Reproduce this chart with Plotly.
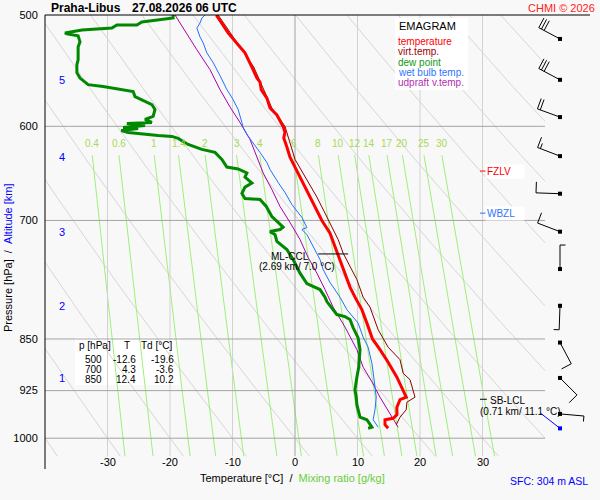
import numpy as np
import plotly.graph_objects as go

W, H = 600, 500
P_TOP, P_BOT = 500, 1050
FONT = "Liberation Sans, Arial, sans-serif"
KPX = np.log10(P_BOT / P_TOP) / 453  # log10(p) per screen pixel

# sounding: pressure [hPa] / temperature [degC]
temp_p = [500, 514.9, 526.9, 532.0, 544.5, 554.4, 558.0, 565.0, 572.9, 582.3,
          588.9, 600.1, 605.7, 611.6, 620.7, 631.0, 641.4, 652.0, 662.8, 676.4,
          690.5, 700, 714.7, 731.3, 746.3, 763.1, 780.8, 793.7, 810.1, 828.2,
          850, 865.0, 882.9, 904.9, 919.8, 935.0, 938.9, 950.5, 962.3, 967.8,
          970.2, 978.2, 983.7]
temp_t = [-12.6, -10.7, -8.8, -8.0, -6.9, -6.1, -5.6, -5.4, -4.5, -4.0,
          -2.9, -1.9, -1.6, -1.8, -1.3, -0.8, 0.0, 0.8, 1.6, 2.7,
          3.7, 4.3, 5.6, 6.4, 7.2, 8.0, 8.8, 9.6, 10.7, 11.5,
          12.4, 13.6, 14.9, 16.3, 17.1, 17.8, 16.8, 16.3, 16.3, 15.7,
          14.4, 14.4, 14.9]

virt_p = [500, 544.5, 582.3, 600.1, 633.4, 654.6, 673.7, 691.7, 707.7, 722.2,
          738.5, 755.6, 771.2, 793.7, 806.8, 837.1, 861.5, 879.3, 899.0, 908.6,
          935.0, 942.7, 954.4, 966.2, 978.2]
virt_t = [-12.3, -6.6, -3.7, -1.6, 0.0, 1.9, 3.5, 4.8, 5.9, 6.9,
          7.7, 8.8, 9.9, 10.9, 12.0, 13.3, 14.9, 16.8, 17.3, 18.4,
          19.2, 17.9, 17.8, 16.8, 16.2]

dew_p = [500, 502.5, 505.8, 508.3, 508.3, 510.8, 512.4, 514.9, 515.7, 517.4,
         522.5, 526.9, 533.6, 538.0, 542.4, 549.5, 554.4, 560.4, 562.2, 565.0,
         566.8, 571.5, 575.2, 579.0, 583.7, 590.3, 593.3, 596.2, 597.2, 599.2,
         601.1, 602.1, 604.1, 606.1, 609.1, 610.0, 612.0, 618.1, 623.1, 626.2,
         633.4, 641.4, 643.4, 647.6, 652.0, 658.5, 662.8, 669.8, 675.3, 676.4,
         684.2, 695.5, 702.3, 707.7, 710.5, 712.9, 716.3, 724.5, 734.1, 746.3,
         763.1, 776.3, 783.9, 793.7, 799.5, 807.4, 816.7, 819.4, 823.4, 834.3,
         848.5, 865.0, 890.1, 904.9, 923.6, 935.0, 946.6, 966.2, 970.2, 982.1,
         983.7]
dew_t = [-19.5, -19.5, -24.5, -25.3, -28.5, -29.3, -34.1, -36.8, -36.5, -34.7,
         -34.4, -34.7, -34.7, -34.7, -34.9, -34.9, -34.4, -33.1, -30.7, -27.7,
         -25.9, -25.6, -24.3, -22.9, -22.4, -22.7, -24.0, -22.9, -26.9, -24.0,
         -27.5, -25.1, -27.8, -26.7, -21.9, -19.7, -18.7, -17.1, -14.9, -12.8,
         -11.7, -10.9, -9.1, -7.7, -8.0, -6.9, -8.0, -8.5, -8.0, -5.6,
         -4.6, -3.7, -2.7, -1.9, -2.4, -4.0, -3.2, -2.9, -1.3, -0.3,
         0.8, 1.9, 4.0, 4.8, 5.1, 5.9, 6.7, 8.0, 8.8, 9.3,
         10.1, 10.4, 10.2, 9.9, 9.6, 9.8, 9.9, 10.4, 11.5, 12.3,
         11.7]

wet_p = [500, 502.5, 506.6, 510.8, 518.3, 523.3, 532.0, 540.5, 552.2, 565.0,
         574.3, 583.7, 596.2, 601.1, 608.1, 616.1, 626.2, 636.6, 643.9, 657.8,
         668.7, 682.0, 696.6, 708.2, 710.5, 716.3, 731.3, 746.3, 758.6, 774.9,
         793.7, 810.1, 828.2, 847.4, 861.5, 884.3, 904.9, 935.0, 954.4, 970.2,
         982.1]
wet_t = [-14.4, -14.9, -15.2, -15.7, -15.2, -14.7, -14.1, -13.1, -12.0, -10.9,
         -9.9, -9.1, -8.5, -8.3, -7.7, -6.7, -5.6, -4.5, -4.0, -2.7,
         -1.6, -0.5, 1.1, 1.9, 1.1, 1.9, 2.9, 4.0, 4.5, 5.6,
         7.2, 8.3, 10.1, 10.9, 11.7, 12.3, 12.6, 13.0, 12.8, 12.5,
         13.3]

updraft_p = [500, 506.6, 516.6, 529.3, 546.8, 565.0, 581.3, 596.2, 613.0, 633.4,
             647.6, 665.4, 684.2, 702.3, 722.2, 743.8, 763.1, 783.9, 806.8, 833.6,
             865.0, 890.1, 911.6, 935.0, 960.7, 982.1]
updraft_t = [-19.2, -18.4, -17.3, -15.7, -13.6, -12.0, -10.4, -8.8, -7.2, -5.9,
             -5.1, -3.7, -2.4, -0.8, 0.8, 2.1, 3.5, 4.8, 6.1, 8.0,
             9.9, 10.9, 12.3, 13.6, 15.2, 16.5]

# winds every 0.5 km: pressure [hPa], direction [deg], speed
barb_p = [520, 556, 591, 630, 670, 713, 758, 805, 855, 906, 961]
barb_dir = [298, 298, 290, 291, 272, 291, 0, 182, 152, 135, 95]
barb_spd = [30, 30, 20, 15, 10, 10, 5, 5, 10, 10, 5]
sfc_p, sfc_dir, sfc_spd = 984, 308, 3
sfc_alt_m = 304

# chart furniture
p_ticks = [500, 600, 700, 850, 925, 1000]
isobars = [600, 700, 850, 925, 1000]
iso_temps = [-30, -20, -10, 0, 10, 20, 30]
theta_1000 = list(range(-40, 101, 10))
mix_ratios = [0.4, 0.6, 1, 1.4, 2, 3, 4, 6, 8, 10, 12, 14, 17, 20, 25, 30]
mix_labels = ["0.4", "0.6", "1", "1.4", "2", "3", "4", "6", "8", "10",
              "12", "14", "17", "20", "25", "30"]
alt_km = [1, 2, 3, 4, 5]
alt_p = [906, 805.5, 713.5, 631, 556]

table_p = [500, 700, 850]
table_t = [-12.6, 4.3, 12.4]
table_td = [-19.6, -3.6, 10.2]

fzlv_p, wbzl_p = 645.6, 691.7
ccl_p, ccl_km, ccl_t = 739.5, 2.69, 7.0
lcl_p, lcl_km, lcl_t = 938.2, 0.71, 11.1

legend_labels = ["temperature", "virt.temp.", "dew point", "wet bulb temp.",
                 "udpraft v.temp."]
legend_colors = ["#ff0000", "#a00000", "#119911", "#2f74ff", "#b030b0"]


def px(x):
    return x / W


def py(y):
    return 1 - y / H


def dewpoint(w, p):
    e = w * p / (622.0 + w)
    a = np.log(e / 6.112)
    return 243.5 * a / (17.67 - a)


def joined(segments):
    xs, ys = [], []
    for sx, sy in segments:
        xs += list(sx) + [None]
        ys += list(sy) + [None]
    return xs, ys


def barb(x0, p0, direction, speed, staff=24, full=11, half=5.5, gap=3):
    d = np.radians(direction)
    sx, sy = np.sin(d), np.cos(d)
    bx, by = np.cos(d), -np.sin(d)

    def pt(dx, dy):
        return x0 + dx, p0 * 10 ** (-KPX * dy)

    segs = [(pt(0, 0), pt(staff * sx, staff * sy))]
    lengths = [full] * int(speed // 10) + [half] * int(speed % 10 >= 5)
    for i, ln in enumerate(lengths):
        r = staff - i * gap
        a = pt(r * sx, r * sy)
        b = pt(r * sx + ln * bx, r * sy + ln * by)
        segs.append((a, b))
    return [([a[0], b[0]], [a[1], b[1]]) for a, b in segs]


def lines(segs, color, width=1, xaxis="x"):
    xs, ys = joined(segs)
    return go.Scatter(x=xs, y=ys, mode="lines", xaxis=xaxis,
                      line=dict(color=color, width=width), hoverinfo="skip")


fig = go.Figure()

p_line = np.geomspace(500, 1030, 80)
fig.add_trace(lines(
    [((th + 273.15) * (p_line / 1000) ** 0.286 - 273.15, p_line)
     for th in theta_1000], "#d6d6d6"))

p_mix = np.geomspace(629, 1030, 40)
fig.add_trace(lines([(dewpoint(w, p_mix), p_mix) for w in mix_ratios],
                    "#9ef07a"))

fig.add_trace(lines([([t, t], [500, 1030]) for t in iso_temps if t != 0],
                    "#d2d2d2"))
fig.add_trace(lines([([0, 0], [500, 1030])], "#a4a4a4"))
fig.add_trace(lines([([-40, 40], [p, p]) for p in isobars], "#a4a4a4"))

profiles = [
    (updraft_t, updraft_p, "#aa00aa", 1),
    (wet_t, wet_p, "#1f6fff", 1),
    (dew_t, dew_p, "#008800", 3),
    (virt_t, virt_p, "#8b0000", 1),
    (temp_t, temp_p, "#ff0000", 3),
]
for t, p, color, width in profiles:
    fig.add_trace(go.Scatter(x=t, y=p, mode="lines", hoverinfo="skip",
                             line=dict(color=color, width=width)))

# level markers
fig.add_trace(lines([([3.7, 8.5], [ccl_p, ccl_p]),
                     ([29.6, 30.7], [lcl_p, lcl_p])], "black"))
fig.add_trace(lines([([29.6, 30.6], [fzlv_p, fzlv_p])], "#ff0000"))
fig.add_trace(lines([([29.6, 30.6], [wbzl_p, wbzl_p])], "#2f74ff"))

# wind barbs in a pixel-wide overlay axis
barb_segs = []
for p, d, s in zip(barb_p, barb_dir, barb_spd):
    barb_segs += barb(560, p, d, s)
fig.add_trace(lines(barb_segs, "black", 1, xaxis="x2"))
fig.add_trace(lines(barb(560, sfc_p, sfc_dir, sfc_spd, staff=25), "#0000ff",
                    1, xaxis="x2"))
fig.add_trace(go.Scatter(x=[560] * len(barb_p), y=barb_p, mode="markers",
                         xaxis="x2", hoverinfo="skip",
                         marker=dict(symbol="square", size=4, color="black")))
fig.add_trace(go.Scatter(x=[560], y=[sfc_p], mode="markers", xaxis="x2",
                         hoverinfo="skip",
                         marker=dict(symbol="square", size=4, color="#0000ff")))

shapes = [
    dict(type="line", xref="paper", yref="paper", x0=px(45), x1=px(590),
         y0=py(15), y1=py(15), line=dict(color="black", width=1)),
    dict(type="line", xref="paper", yref="paper", x0=px(45), x1=px(45),
         y0=py(15), y1=py(469), line=dict(color="black", width=1)),
    dict(type="rect", xref="paper", yref="paper", x0=px(395), x1=px(468),
         y0=py(18), y1=py(90), fillcolor="white", line=dict(width=0),
         layer="above"),
    dict(type="rect", xref="paper", yref="paper", x0=px(75), x1=px(180),
         y0=py(337), y1=py(385), fillcolor="white", line=dict(width=0),
         layer="below"),
]
for p in alt_p:
    shapes.append(dict(type="line", xref="paper", yref="y", x0=px(48),
                       x1=px(53), y0=np.log10(p), y1=np.log10(p),
                       line=dict(color="#0000ff", width=1)))

annotations = []


def note(text, x, y, size=10, color="black", xanchor="center", xref="paper",
         yref="paper", **kw):
    annotations.append(dict(text=text, x=x, y=y, xref=xref, yref=yref,
                            xanchor=xanchor, yanchor="middle", showarrow=False,
                            font=dict(size=size, color=color, family=FONT),
                            **kw))


note("<b>Praha-Libus</b>", px(50), py(7.5), 12, xanchor="left",
     borderpad=0)
note("<b>27.08.2026 06 UTC</b>", px(131), py(7.5), 12, xanchor="left",
     borderpad=0)
note("CHMI © 2026", px(596), py(7.5), 11, "#ff2020", xanchor="right",
     borderpad=0)

note("EMAGRAM", px(397), py(26), 11, xanchor="left")
for i, (lab, col) in enumerate(zip(legend_labels, legend_colors)):
    note(lab, px(397), py(42 + 10 * i), 10, col, xanchor="left", borderpad=0)

for w, lab in zip(mix_ratios, mix_labels):
    note(lab, float(dewpoint(w, 629)), np.log10(617), 10, "#a8d855",
         xref="x", yref="y")

for t in iso_temps:
    note(str(t), t, np.log10(1040), 11, xref="x", yref="y")

for km, p in zip(alt_km, alt_p):
    note(str(km), px(57), np.log10(p), 11, "#0000ff", xanchor="left",
         yref="y")

note("FZLV", 30.4, np.log10(fzlv_p), 10, "#ff0000", xanchor="left",
     xref="x", yref="y", bgcolor="white", width=36, align="left",
     borderpad=1)
note("WBZL", 30.4, np.log10(wbzl_p), 10, "#2f74ff", xanchor="left",
     xref="x", yref="y", bgcolor="white", width=36, align="left",
     borderpad=1)

note("ML-CCL", ccl_t, np.log10(ccl_p), 10, xref="x", yref="y",
     xshift=-49, yshift=-3)
note(f"({ccl_km:.2f} km/ {ccl_t:.1f} °C)", ccl_t, np.log10(ccl_p), 10,
     xref="x", yref="y", xshift=-42, yshift=-13)
note("SB-LCL", 30.8, np.log10(lcl_p), 10, xanchor="left", xref="x",
     yref="y", yshift=-1)
note(f"({lcl_km:.2f} km/ {lcl_t:.1f} °C)", 29.3, np.log10(lcl_p), 10,
     xanchor="left", xref="x", yref="y", yshift=-12)

# small table of standard levels
note("p [hPa]", px(78), py(345), 10, xanchor="left", borderpad=0)
note("T", px(127), py(345), 10, borderpad=0)
note("Td [°C]", px(140), py(345), 10, xanchor="left", borderpad=0)
for i, (p, t, td) in enumerate(zip(table_p, table_t, table_td)):
    y = py(359 + 10 * i)
    note(str(p), px(103), y, 10, xanchor="right", borderpad=0)
    note(f"{t:.1f}", px(137), y, 10, xanchor="right", borderpad=0)
    note(f"{td:.1f}", px(175), y, 10, xanchor="right", borderpad=0)

note("Temperature [°C]\u00a0\u00a0/\u00a0\u00a0"
     "<span style='color:#6acd38'>Mixing ratio [g/kg]</span>",
     px(292), py(478), 11)
note(f"SFC: {sfc_alt_m} m ASL", px(590), py(481), 10.5, "#0000ff",
     xanchor="right")
note("Pressure [hPa]\u00a0\u00a0/\u00a0\u00a0"
     "<span style='color:#0000ff'>Altitude [km]</span>",
     px(8), py(258), 11, textangle=-90, borderpad=0)

fig.update_layout(
    width=W, height=H,
    margin=dict(l=0, r=0, t=0, b=0, autoexpand=False),
    paper_bgcolor="#f8f8f8",
    plot_bgcolor="rgba(0,0,0,0)",
    showlegend=False,
    font=dict(family=FONT, size=11, color="black"),
    xaxis=dict(domain=[px(45), px(545)], range=[-40, 40], showgrid=False,
               zeroline=False, showticklabels=False, showline=False),
    yaxis=dict(domain=[py(468), py(15)], type="log",
               range=[np.log10(P_BOT), np.log10(P_TOP)],
               tickvals=p_ticks, ticktext=[str(p) for p in p_ticks],
               ticks="outside", ticklen=4, tickcolor="rgba(0,0,0,0)",
               showgrid=False, zeroline=False, showline=False,
               tickfont=dict(size=11, color="black")),
    xaxis2=dict(domain=[0, 1], range=[0, W], anchor="y", visible=False),
    shapes=shapes,
    annotations=annotations,
)

# the page's default 8px body margin would push the 600x500 chart off the window
fig.write_html("out.html", config={"displayModeBar": False},
               post_script="document.body.style.margin = '0';")
